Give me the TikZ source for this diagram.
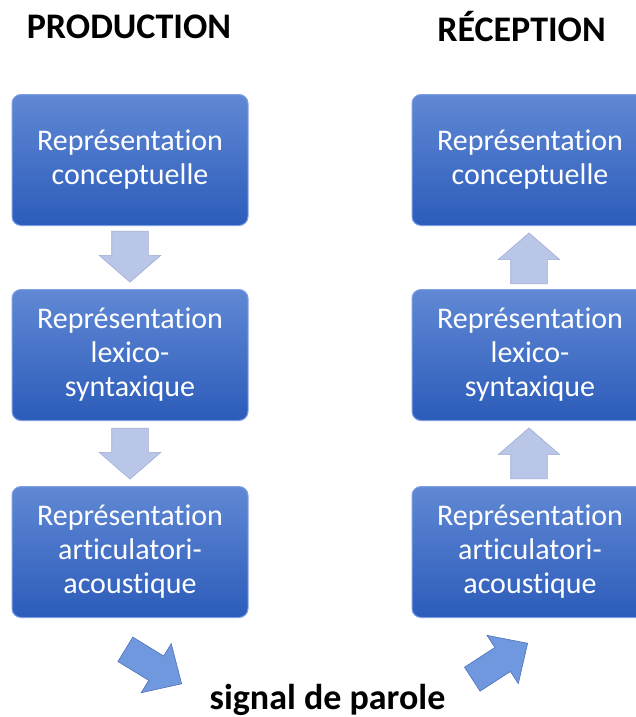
\documentclass[tikz,border=0pt]{standalone}
\usepackage{fontspec}
\setmainfont{Carlito}[Ligatures=NoCommon]
\usetikzlibrary{shapes.arrows}
\newcommand\nolig{\kern0pt }
\definecolor{boxtop}{RGB}{96,136,212}
\definecolor{boxbot}{RGB}{44,92,186}
\definecolor{boxedge}{RGB}{125,160,228}
\definecolor{arrlight}{RGB}{186,198,232}
\definecolor{arrdark}{RGB}{160,174,216}
\definecolor{diagcol}{RGB}{112,152,222}
\definecolor{diagedge}{RGB}{80,115,185}
\begin{document}
\begin{tikzpicture}[x=1pt,y=-1pt,
  stagebox/.style={rectangle, rounded corners=9pt, minimum width=236pt, minimum height=131pt,
    inner sep=0pt, top color=boxtop, bottom color=boxbot, draw=boxedge, line width=1pt,
    text=white, align=center, font=\fontsize{30}{34}\selectfont},
  titletext/.style={font=\fontsize{36}{40}\selectfont\bfseries, anchor=base, inner sep=0pt},
  vblock/.style={single arrow, minimum height=51pt, minimum width=61pt, inner xsep=0pt,
    inner ysep=18pt, single arrow head extend=12.5pt, single arrow tip angle=98,
    fill=arrlight, draw=arrdark, line width=0.6pt, anchor=tip},
  dblock/.style={single arrow, minimum height=66pt, minimum width=57pt, inner xsep=0pt,
    inner ysep=14pt, single arrow head extend=14.5pt, single arrow tip angle=88,
    fill=diagcol, draw=diagedge, line width=0.6pt, anchor=tip}
]
\clip (0,0) rectangle (636,717);
\fill[white] (0,0) rectangle (636,717);

\node[titletext] (tprod) at (129,39) {PRODUCTION};
\node[titletext] (trec) at (521.5,42) {RÉCEPTION};

\node[stagebox] (p1) at (130,160) {Représentat\nolig ion\\conceptuelle};
\node[stagebox] (p2) at (130,355) {Représentat\nolig ion\\lexico-\\syntaxique};
\node[stagebox] (p3) at (130,552) {Représentat\nolig ion\\articulat\nolig ori-\\acoust\nolig ique};

\node[stagebox] (r1) at (530,160) {Représentat\nolig ion\\conceptuelle};
\node[stagebox] (r2) at (530,355) {Représentat\nolig ion\\lexico-\\syntaxique};
\node[stagebox] (r3) at (530,552) {Représentat\nolig ion\\articulat\nolig ori-\\acoust\nolig ique};

\node[vblock, rotate=-90] (ad1) at ([yshift=6.5pt]p2.north) {};
\node[vblock, rotate=-90] (ad2) at ([yshift=6.5pt]p3.north) {};
\node[vblock, rotate=90] (au1) at ([yshift=-6.5pt,xshift=-1pt]r1.south) {};
\node[vblock, rotate=90] (au2) at ([yshift=-6.5pt,xshift=-1pt]r2.south) {};

\coordinate (dtipl) at (182,684);
\coordinate (dtipr) at (528,643);
\node[dblock, rotate=-31.5] (adl) at (dtipl) {};
\node[dblock, rotate=33] (adr) at (dtipr) {};

\node[titletext] (sig) at (327.5,709) {signal de parole};
\end{tikzpicture}
\end{document}
